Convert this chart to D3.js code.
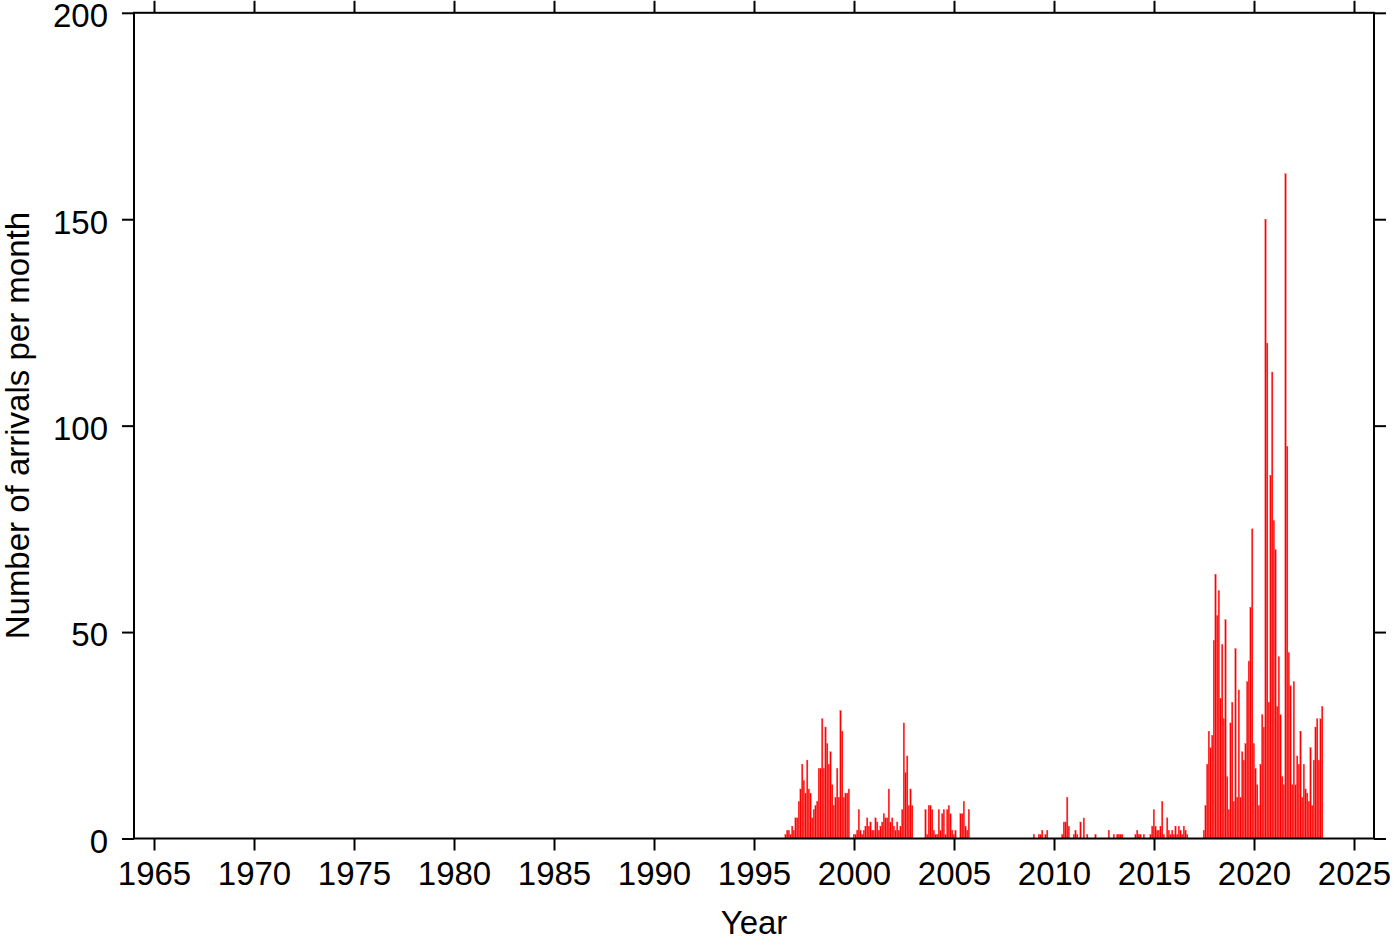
<!DOCTYPE html>
<html>
<head>
<meta charset="utf-8">
<script src="https://cdn.jsdelivr.net/npm/d3@7"></script>
<style>
  html, body { margin: 0; padding: 0; background: #fff; }
  svg { display: block; }
  text { font-family: "Liberation Sans", Arial, Helvetica, sans-serif; }
</style>
</head>
<body>
<svg id="chart" width="1400" height="942"></svg>
<script>
// ---- Data: monthly arrival counts, in contiguous segments ----
// Segment A: Jul 1996 – Nov 2002
const startA = [1996, 7];
const countsA = [1,2,2,1,3,2,5,5,9,12,18,14,11,19,12,11,5,7,8,9,17,17,29,17,27,23,18,21,13,8,10,17,10,31,26,10,11,11,12,0,0,
  1,1,2,7,2,1,2,3,5,3,4,2,2,5,4,2,3,4,6,5,5,12,4,5,3,2,4,2,3,7,28,16,20,8,12,8];
// Segment B: Jul 2003 – Sep 2005
const startB = [2003, 7];
const countsB = [7,1,8,8,7,2,1,1,7,2,6,7,1,7,8,6,2,1,2,0,0,6,6,9,3,2,7];
// Segment C: Dec 2008 – Sep 2016
const startC = [2008, 12];
const countsC = [1,0,0,1,1,2,0,1,2,0,0,0,0,0,0,0,0,1,4,4,10,3,0,0,1,2,1,0,4,0,5,0,1,0,0,0,0,
  1,0,0,0,0,0,0,0,2,0,0,1,0,1,1,1,1,0,0,0,0,0,0,0,1,2,1,1,0,1,0,0,0,1,3,7,3,2,2,3,9,1,0,5,2,1,2,
  1,3,1,3,2,1,3,2,1];
// Segment D: Jun 2017 – May 2023
const startD = [2017, 6];
const countsD = [2,8,18,26,22,25,48,64,54,60,34,47,29,53,15,7,28,33,9,46,10,36,10,21,19,23,38,43,56,75,23,
  17,13,8,18,30,27,150,120,33,88,113,77,70,32,44,30,15,13,161,95,45,37,13,38,
  13,20,18,26,10,18,12,11,9,22,8,19,27,29,19,29,32];

const xTicks = [1965,1970,1975,1980,1985,1990,1995,2000,2005,2010,2015,2020,2025];
const yTicks = [0,50,100,150,200];
const xDomain = [1964, 2026];
const yDomain = [0, 200];

// ---- Build monthly records ----
function expand(start, counts) {
  return counts.map((v, i) => {
    const m = (start[1] - 1) + i;
    return { t: start[0] + m / 12, v: v };
  });
}
const data = [].concat(
  expand(startA, countsA), expand(startB, countsB),
  expand(startC, countsC), expand(startD, countsD)
).filter(d => d.v > 0);

// ---- Layout ----
const svg = d3.select("#chart");
const L = 134, R = 1374, T = 12.8, B = 838.5;
const x = d3.scaleLinear().domain(xDomain).range([L, R]);
const y = d3.scaleLinear().domain(yDomain).range([B, T]);
const fontSize = 33;
const tickLen = 12;

// Bars
const monthW = x(xDomain[0] + 1/12) - x(xDomain[0]);
svg.append("g").selectAll("rect").data(data).enter().append("rect")
  .attr("x", d => x(d.t) + 0.8)
  .attr("width", monthW * 0.88)
  .attr("y", d => y(d.v))
  .attr("height", d => y(0) - y(d.v))
  .attr("fill", "#ff0000")
  .attr("stroke", "#ff4d4d")
  .attr("stroke-width", 0.3);

// Axes
function styleAxis(g) {
  g.select(".domain").remove();
  g.selectAll(".tick line").attr("stroke", "#000").attr("stroke-width", 2);
  g.selectAll(".tick text").attr("fill", "#000").style("font-size", fontSize + "px")
    .style("font-family", '"Liberation Sans", Arial, Helvetica, sans-serif');
}
svg.append("g").attr("transform", `translate(0,${B})`)
  .call(d3.axisBottom(x).tickValues(xTicks).tickFormat(d3.format("d")).tickSize(tickLen).tickPadding(11))
  .call(styleAxis);
svg.append("g").attr("transform", `translate(0,${T})`)
  .call(d3.axisTop(x).tickValues(xTicks).tickFormat("").tickSize(tickLen))
  .call(styleAxis);
svg.append("g").attr("transform", `translate(${L},0)`)
  .call(d3.axisLeft(y).tickValues(yTicks).tickFormat(d3.format("d")).tickSize(tickLen).tickPadding(14))
  .call(styleAxis)
  .call(g => g.selectAll(".tick text").attr("dy", "0.42em"));
svg.append("g").attr("transform", `translate(${R},0)`)
  .call(d3.axisRight(y).tickValues(yTicks).tickFormat("").tickSize(tickLen))
  .call(styleAxis);

// Frame
svg.append("rect")
  .attr("x", L).attr("y", T).attr("width", R - L).attr("height", B - T)
  .attr("fill", "none").attr("stroke", "#000").attr("stroke-width", 2);

// Axis titles
svg.append("text")
  .attr("x", (L + R) / 2).attr("y", 934)
  .attr("text-anchor", "middle")
  .style("font-size", fontSize + "px")
  .text("Year");
svg.append("text")
  .attr("transform", `translate(29,${(T + B) / 2}) rotate(-90)`)
  .attr("text-anchor", "middle")
  .style("font-size", fontSize + "px")
  .text("Number of arrivals per month");
</script>
</body>
</html>
